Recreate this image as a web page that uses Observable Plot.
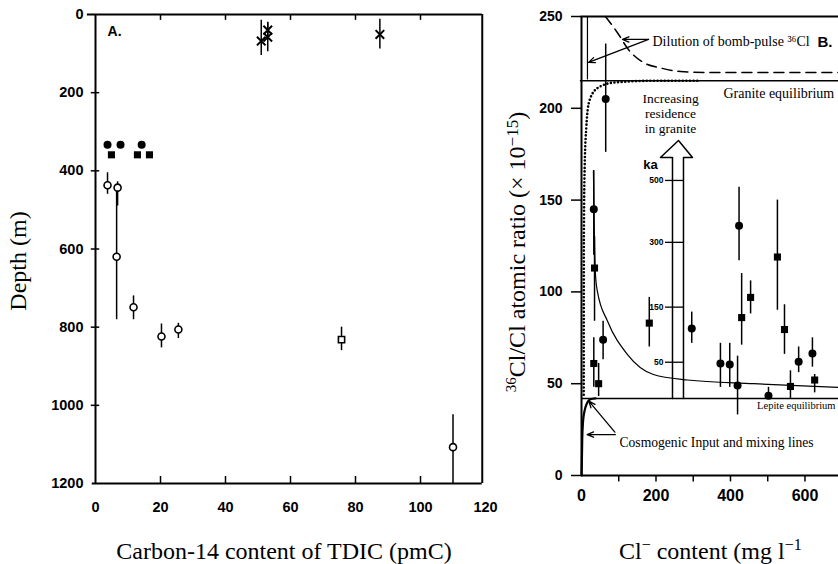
<!DOCTYPE html>
<html>
<head>
<meta charset="utf-8">
<script src="https://cdn.jsdelivr.net/npm/d3@7"></script>
<script src="https://cdn.jsdelivr.net/npm/@observablehq/plot@0.6"></script>
<style>
html,body{margin:0;padding:0;background:#fff;}
#wrap{position:relative;width:838px;height:564px;overflow:hidden;background:#fff;}
#wrap svg{position:absolute;top:0;}
</style>
</head>
<body>
<div id="wrap"></div>
<script>
// ---------- Panel A: depth vs carbon-14 content ----------
const aXTicks = [0, 20, 40, 60, 80, 100, 120];
const aYTicks = [0, 200, 400, 600, 800, 1000, 1200];

const aOpenC14   = [3.7, 6.8, 6.5, 11.7, 20.3, 25.5, 110];
const aOpenDepth = [437, 443, 620, 749, 824, 806, 1107];
const aOpenLow   = [405, 428, 450, 720, 792, 790, 1024];
const aOpenHigh  = [460, 490, 781, 781, 853, 829, 1200];

const aOpenSqC14   = [75.7];
const aOpenSqDepth = [832];
const aOpenSqLow   = [800];
const aOpenSqHigh  = [860];

const aFilledCircleC14   = [3.7, 7.7, 14.2];
const aFilledCircleDepth = [333, 333, 333];
const aFilledSquareC14   = [4.9, 12.9, 16.6];
const aFilledSquareDepth = [359, 359, 359];

const aCrossC14   = [51, 53, 53, 87.5];
const aCrossDepth = [68, 58, 40, 51];
const aCrossLow   = [15, 22, 20, 12];
const aCrossHigh  = [105, 95, 65, 88];

// ---------- Panel B: 36Cl/Cl vs chloride ----------
const bXTicks = [0, 200, 400, 600];
const bXMinorTicks = [100, 200, 300, 400, 500, 600];
const bYTicks = [0, 50, 100, 150, 200, 250];

const bCircleCl    = [33, 65, 58, 296, 373, 398, 419, 423, 502, 583, 620];
const bCircleRatio = [145, 205, 74, 80, 61, 60.5, 49, 136, 43.5, 62, 66.5];
const bCircleLow   = [120, 176, 63, 72, 48, 48, 33, 117, 42, 56, 59];
const bCircleHigh  = [166, 235, 84, 89, 72, 72, 65, 157, 48, 70, 75];

const bSquareCl    = [35, 33, 46, 182, 430, 454, 526, 545, 561, 626];
const bSquareRatio = [113, 61, 50, 83, 86, 97, 119, 79.5, 48.5, 52];
const bSquareLow   = [84, 48, 43, 70, 71, 88, 90, 66, 42, 45];
const bSquareHigh  = [130, 75, 61, 97, 110, 106, 150, 93, 57, 55];

const bGraniteEq = 215;
const bLepiteEq = 42;

const bDashCl    = [64, 72, 97, 126, 166, 212, 266, 350, 690];
const bDashRatio = [250, 248, 241, 232, 225, 222, 220, 219.5, 219.5];

const bSteepCl    = [16, 16];
const bSteepRatio = [250, 216];

const bDotCl    = [6, 6.5, 8.5, 13, 21, 43, 86, 193, 320];
const bDotRatio = [44, 132, 168, 190, 204, 211, 214, 215, 215];

const bHyperCl    = [32, 35, 38, 43, 70, 123, 193, 285, 462, 690];
const bHyperRatio = [166, 125, 108, 100, 84, 66, 55, 52, 50, 48];

const bCosmoCl    = [0.3, 2, 4, 8, 14, 24, 38];
const bCosmoRatio = [0, 20, 29, 35, 39, 41.5, 42];

const bArrowCl    = [244.3, 244.3, 212, 260.4, 298, 273.8, 273.8];
const bArrowRatio = [42, 173.2, 173.2, 182.5, 173.2, 173.2, 42];

const kaLabels = ["500", "300", "150", "50"];
const kaRatio  = [160.7, 127, 91.7, 61.7];

// ---------- helpers ----------
const SERIF = "'Liberation Serif', 'Times New Roman', serif";
const SANS = "'Liberation Sans', Arial, Helvetica, sans-serif";
const rows = (xs, ys, lo, hi) => xs.map((x, i) => ({x, y: ys[i], lo: lo ? lo[i] : null, hi: hi ? hi[i] : null}));
const plain = d => String(d);

const aOpen = rows(aOpenC14, aOpenDepth, aOpenLow, aOpenHigh);
const aOpenSq = rows(aOpenSqC14, aOpenSqDepth, aOpenSqLow, aOpenSqHigh);
const aFC = rows(aFilledCircleC14, aFilledCircleDepth);
const aFS = rows(aFilledSquareC14, aFilledSquareDepth);
const aCross = rows(aCrossC14, aCrossDepth, aCrossLow, aCrossHigh);

const plotA = Plot.plot({
  width: 500, height: 564,
  marginLeft: 95, marginRight: 15, marginTop: 14, marginBottom: 81,
  x: {domain: [0, 120], label: null},
  y: {domain: [0, 1200], reverse: true, label: null},
  style: {background: "transparent", overflow: "visible", fontFamily: SANS, color: "black"},
  marks: [
    Plot.ruleX([0], {y1: 0, y2: 1200, strokeWidth: 2}),
    Plot.ruleX([119], {y1: 0, y2: 1200, strokeWidth: 2}),
    Plot.ruleY([0], {x1: -2.5, x2: 119, strokeWidth: 2}),
    Plot.ruleY([1200], {x1: -1, x2: 119, strokeWidth: 2}),
    Plot.ruleX(aXTicks.slice(1, -1), {y1: 1200, y2: 1182, strokeWidth: 1.5}),
    Plot.ruleX(aXTicks.slice(1, -1), {y1: 0, y2: 15, strokeWidth: 1.5}),
    Plot.ruleY(aYTicks.slice(1, -1), {x1: -1.3, x2: 1.3, strokeWidth: 1.5}),
    Plot.axisX(aXTicks, {anchor: "bottom", tickSize: 0, tickPadding: 18, tickFormat: plain, fontSize: 14.5, fontWeight: "bold", fontFamily: SANS, label: null}),
    Plot.axisY(aYTicks, {anchor: "left", tickSize: 0, tickPadding: 12, tickFormat: plain, fontSize: 14.5, fontWeight: "bold", fontFamily: SANS, label: null}),
    Plot.ruleX(aOpen, {x: "x", y1: "lo", y2: "hi", strokeWidth: 1.5}),
    Plot.ruleX(aOpenSq, {x: "x", y1: "lo", y2: "hi", strokeWidth: 1.5}),
    Plot.ruleX(aCross, {x: "x", y1: "lo", y2: "hi", strokeWidth: 1.5}),
    Plot.dot(aFC, {x: "x", y: "y", r: 4, symbol: "circle", fill: "black"}),
    Plot.dot(aFS, {x: "x", y: "y", r: 4, symbol: "square", fill: "black"}),
    Plot.dot(aCross, {x: "x", y: "y", r: 4, symbol: "times", stroke: "black", strokeWidth: 2}),
    Plot.dot(aOpen, {x: "x", y: "y", r: 3.5, symbol: "circle", fill: "white", stroke: "black", strokeWidth: 1.6}),
    Plot.dot(aOpenSq, {x: "x", y: "y", r: 3.5, symbol: "square", fill: "white", stroke: "black", strokeWidth: 1.6}),
    Plot.text(["A."], {x: 3.7, y: 44, text: d => d, textAnchor: "start", fontSize: 14, fontWeight: "bold", fontFamily: SANS})
  ]
});

const bCircle = rows(bCircleCl, bCircleRatio, bCircleLow, bCircleHigh);
const bSquare = rows(bSquareCl, bSquareRatio, bSquareLow, bSquareHigh);
const kaRows = kaLabels.map((t, i) => ({t, y: kaRatio[i]}));

const plotB = Plot.plot({
  width: 368, height: 564,
  marginLeft: 111, marginRight: 0, marginTop: 16, marginBottom: 89,
  x: {domain: [0, 690], label: null},
  y: {domain: [0, 250], label: null},
  style: {background: "transparent", overflow: "visible", fontFamily: SANS, color: "black"},
  marks: [
    Plot.ruleX([0], {y1: 0, y2: 250, strokeWidth: 2}),
    Plot.ruleY([0], {x1: 0, x2: 690, strokeWidth: 2}),
    Plot.ruleY([250], {x1: -1, x2: 690, strokeWidth: 2}),
    Plot.ruleX(bXMinorTicks, {y1: 0, y2: -3.5, strokeWidth: 1.5}),
    Plot.axisX(bXTicks, {anchor: "bottom", tickSize: 0, tickPadding: 14, tickFormat: plain, fontSize: 16, fontWeight: "bold", fontFamily: SANS, label: null}),
    Plot.axisY(bYTicks, {anchor: "left", tickSize: 10, tickPadding: 9, tickFormat: plain, strokeWidth: 1.5, fontSize: 14, fontWeight: "bold", fontFamily: SANS, label: null}),
    Plot.ruleY([bGraniteEq], {x1: -3, x2: 690, strokeWidth: 1.5}),
    Plot.ruleY([bLepiteEq], {x1: 0, x2: 690, strokeWidth: 1.5}),
    Plot.line(rows(bDashCl, bDashRatio), {x: "x", y: "y", curve: "monotone-x", strokeWidth: 1.5, strokeDasharray: "10,6"}),
    Plot.line(rows(bSteepCl, bSteepRatio), {x: "x", y: "y", strokeWidth: 1.2}),
    Plot.line(rows(bDotCl, bDotRatio), {x: "x", y: "y", curve: "monotone-x", strokeWidth: 2.6, strokeLinecap: "round", strokeDasharray: "0,3.6"}),
    Plot.line(rows(bHyperCl, bHyperRatio), {x: "x", y: "y", curve: "monotone-x", strokeWidth: 1.2}),
    Plot.line(rows(bCosmoCl, bCosmoRatio), {x: "x", y: "y", curve: "monotone-x", strokeWidth: 2.2}),
    Plot.line(rows(bArrowCl, bArrowRatio), {x: "x", y: "y", strokeWidth: 1.5}),
    Plot.ruleY(kaRatio, {x1: 225.5, x2: 274, strokeWidth: 1.3}),
    Plot.text(kaRows, {x: 220, y: "y", text: "t", textAnchor: "end", fontSize: 8.5, fontWeight: "bold", fontFamily: SANS}),
    Plot.text(["ka"], {x: 185, y: 169, text: d => d, fontSize: 13, fontWeight: "bold", fontFamily: SANS}),
    Plot.ruleX(bCircle, {x: "x", y1: "lo", y2: "hi", strokeWidth: 1.5}),
    Plot.ruleX(bSquare, {x: "x", y1: "lo", y2: "hi", strokeWidth: 1.5}),
    Plot.dot(bCircle, {x: "x", y: "y", r: 4, symbol: "circle", fill: "black"}),
    Plot.dot(bSquare, {x: "x", y: "y", r: 4, symbol: "square", fill: "black"}),
    Plot.arrow([{x1: 180, y1: 237.5, x2: 110, y2: 237.5}, {x1: 180, y1: 237.5, x2: 19, y2: 225}],
      {x1: "x1", y1: "y1", x2: "x2", y2: "y2", headLength: 8, headAngle: 45, strokeWidth: 1.3}),
    Plot.arrow([{x1: 89.5, y1: 23.6, x2: 19.7, y2: 40.5}, {x1: 91, y1: 22.3, x2: 15.2, y2: 22.3}],
      {x1: "x1", y1: "y1", x2: "x2", y2: "y2", headLength: 8, headAngle: 45, strokeWidth: 1.3}),
    Plot.text(["Dilution of bomb-pulse ³⁶Cl"], {x: 190.6, y: 236.4, text: d => d, textAnchor: "start", fontSize: 14, fontFamily: SERIF}),
    Plot.text(["B."], {x: 633.6, y: 235.8, text: d => d, textAnchor: "start", fontSize: 15, fontWeight: "bold", fontFamily: SANS}),
    Plot.text(["Granite equilibrium"], {x: 381, y: 208, text: d => d, textAnchor: "start", fontSize: 14, fontFamily: SERIF}),
    Plot.text(["Increasing\nresidence\nin granite"], {x: 239, y: 197.2, text: d => d, lineHeight: 1.1, fontSize: 13.5, fontFamily: SERIF}),
    Plot.text(["Cosmogenic Input and mixing lines"], {x: 102, y: 18, text: d => d, textAnchor: "start", fontSize: 13.6, fontFamily: SERIF}),
    Plot.text(["Lepite equilibrium"], {x: 682, y: 38, text: d => d, textAnchor: "end", fontSize: 10.5, fontFamily: SERIF})
  ]
});

const wrap = d3.select("#wrap");
wrap.node().appendChild(plotA);
wrap.node().appendChild(plotB);
d3.select(plotA).style("left", "0px");
d3.select(plotB).style("left", "470px");

// axis titles
const sa = d3.select(plotA);
sa.append("text").attr("x", 284).attr("y", 559).attr("text-anchor", "middle")
  .attr("font-family", SERIF).attr("font-size", 24).attr("fill", "black")
  .text("Carbon-14 content of TDIC (pmC)");
sa.append("text").attr("transform", "translate(26,261) rotate(-90)").attr("text-anchor", "middle")
  .attr("font-family", SERIF).attr("font-size", 24).attr("fill", "black")
  .text("Depth (m)");

const sb = d3.select(plotB);
const tx = sb.append("text").attr("x", 149).attr("y", 559).attr("text-anchor", "start")
  .attr("font-family", SERIF).attr("font-size", 24).attr("fill", "black");
tx.append("tspan").text("Cl");
tx.append("tspan").attr("font-size", 16).attr("dy", -9).text("−");
tx.append("tspan").attr("dy", 9).text(" content (mg l");
tx.append("tspan").attr("font-size", 16).attr("dy", -9).text("−1");

const ty = sb.append("text").attr("transform", "translate(55,252) rotate(-90)").attr("text-anchor", "middle")
  .attr("font-family", SERIF).attr("font-size", 24).attr("fill", "black");
ty.append("tspan").attr("font-size", 15).attr("dy", -9).text("36");
ty.append("tspan").attr("dy", 9).text("Cl/Cl atomic ratio (× 10");
ty.append("tspan").attr("font-size", 17).attr("dy", -7).text("−15");
ty.append("tspan").attr("dy", 7).text(")");
</script>
</body>
</html>
